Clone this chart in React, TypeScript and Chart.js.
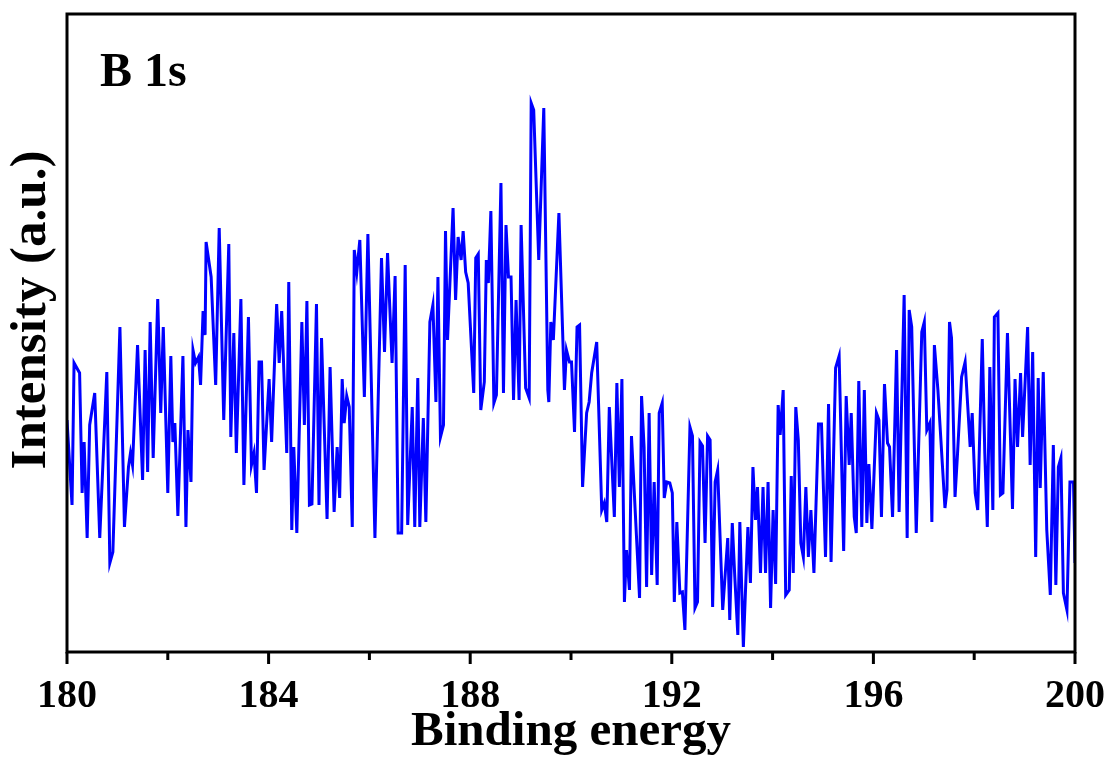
import React, { useEffect, useRef } from 'react';
import { Chart, registerables } from 'chart.js';

Chart.register(...registerables);

// Binding energy (eV)
const bindingEnergy = [
  180.00,180.10,180.14,180.25,180.30,180.34,180.40,180.45,180.55,180.65,
  180.79,180.85,180.91,181.05,181.14,181.22,181.26,181.30,181.40,181.50,
  181.55,181.60,181.65,181.71,181.80,181.86,181.91,182.00,182.06,182.10,
  182.14,182.20,182.30,182.36,182.40,182.46,182.50,182.55,182.61,182.65,
  182.70,182.74,182.76,182.86,182.95,183.02,183.11,183.21,183.25,183.31,
  183.36,
  183.45,183.51,183.60,183.66,183.71,183.76,183.81,183.86,183.91,184.01,
  184.06,184.16,184.21,184.26,184.36,184.40,184.46,184.50,184.56,184.66,
  184.71,184.76,184.81,184.86,184.95,185.00,185.05,185.16,185.22,185.30,
  185.36,185.41,185.46,185.50,185.55,185.60,185.66,185.70,185.75,185.81,
  185.90,185.97,186.11,186.24,186.30,186.36,186.45,186.51,186.57,186.64,
  186.71,
  186.76,186.85,186.90,186.96,187.00,187.07,187.12,187.20,187.26,187.32,
  187.36,187.41,187.47,187.51,187.55,187.66,187.71,187.76,187.82,187.86,
  187.91,187.96,188.07,188.11,188.16,188.21,188.28,188.32,188.36,188.41,
  188.47,188.52,188.61,188.66,188.71,188.76,188.81,188.86,188.91,188.97,
  189.01,189.10,189.17,189.21,189.26,189.36,189.46,189.54,189.56,189.60,
  189.65,189.76,189.87,189.91,189.97,190.01,190.07,
  190.12,190.17,190.23,190.31,190.36,190.41,190.51,190.61,190.66,190.71,
  190.76,190.86,190.91,190.96,191.01,191.06,191.10,191.16,191.20,191.36,
  191.40,191.45,191.50,191.55,191.60,191.65,191.71,191.75,191.81,191.85,
  191.90,191.96,192.01,192.05,192.10,192.16,192.21,192.26,192.36,192.41,
  192.46,192.51,192.56,192.61,192.66,192.71,192.76,192.81,192.86,192.91,
  193.01,193.11,193.15,193.20,193.25,193.31,193.35,193.42,
  193.51,193.56,193.61,193.66,193.70,193.76,193.81,193.86,193.91,193.96,
  194.01,194.06,194.11,194.15,194.21,194.26,194.33,194.37,194.41,194.46,
  194.51,194.56,194.61,194.66,194.71,194.76,194.82,194.91,194.97,195.05,
  195.11,195.16,195.25,195.32,195.41,195.46,195.52,195.56,195.62,195.66,
  195.71,195.77,195.82,195.87,195.91,195.97,196.06,196.11,196.16,196.22,
  196.28,196.32,196.38,196.46,196.51,196.61,196.67,196.71,196.76,196.85,
  196.96,197.01,197.06,197.12,197.16,197.21,197.28,197.42,197.46,197.51,
  197.55,197.62,197.67,197.75,197.82,197.92,197.96,198.02,198.07,198.16,
  198.21,198.26,198.31,198.37,198.40,198.47,198.52,198.57,198.66,198.76,
  198.81,198.86,198.92,198.96,199.06,199.11,199.16,199.22,199.27,199.31,
  199.37,199.44,199.51,199.57,199.62,199.67,199.72,199.77,199.84,199.90,
  199.97,200.00,
];

// Intensity (a.u.)
const intensity = [
  232,147,289,279,159,210,114,227,259,114,
  280,89,100,325,125,185,199,187,307,172,
  302,180,330,194,353,239,325,159,296,210,
  229,136,296,125,222,170,302,289,295,267,
  341,317,410,375,267,424,232,408,215,319,
  199,
  353,167,335,187,199,159,290,290,182,273,
  210,348,289,341,199,370,122,205,119,330,
  227,351,147,148,348,147,314,133,285,140,
  205,154,273,229,256,245,125,402,380,412,
  255,418,114,394,300,399,289,376,119,119,
  387,
  127,245,125,274,125,234,130,330,347,250,
  375,215,227,421,312,444,352,415,392,421,
  380,369,259,394,398,242,270,392,369,441,
  249,257,469,259,427,375,375,252,352,252,
  427,264,254,549,542,392,544,262,250,330,
  312,439,262,302,290,290,220,
  325,327,165,239,250,279,310,142,149,130,
  245,135,269,165,273,50,102,62,216,54,
  256,205,65,239,77,170,67,239,249,154,
  170,169,159,50,130,59,60,22,225,216,
  44,50,210,206,109,216,212,45,170,182,
  42,114,32,129,75,17,130,5,
  125,69,185,132,165,79,165,79,170,44,
  142,68,247,217,262,57,62,176,79,245,
  212,109,95,165,95,142,79,228,228,95,
  248,90,284,296,101,256,187,239,135,119,
  271,125,262,129,188,123,239,232,135,268,
  209,205,135,302,140,357,114,342,325,119,
  320,330,222,229,130,307,262,144,162,330,
  314,155,199,275,290,205,239,159,142,313,
  199,125,285,142,335,339,157,159,319,143,
  273,205,279,215,325,187,300,95,274,164,
  280,122,57,207,67,185,194,59,42,170,
  170,89,
];

const majorTicks = [180, 184, 188, 192, 196, 200];
const minorTicks = [182, 186, 190, 194, 198];
const panelLabel = 'B 1s';
const xTitle = 'Binding energy';
const yTitle = 'Intensity (a.u.)';

const SERIF = '"Liberation Serif", "Times New Roman", serif';

export default function App() {
  const ref = useRef<HTMLCanvasElement>(null);

  useEffect(() => {
    document.body.style.margin = '0';
    const canvas = ref.current;
    if (!canvas) return;

    const framePlugin = {
      id: 'frame',
      afterDraw(chart: any) {
        const { ctx, chartArea: a, scales } = chart;
        ctx.save();
        ctx.strokeStyle = '#000';
        ctx.lineWidth = 3;
        ctx.strokeRect(a.left, a.top, a.right - a.left, a.bottom - a.top);
        const xs = scales.x;
        ctx.beginPath();
        for (const v of majorTicks) {
          const px = xs.getPixelForValue(v);
          ctx.moveTo(px, a.bottom);
          ctx.lineTo(px, a.bottom + 12);
        }
        for (const v of minorTicks) {
          const px = xs.getPixelForValue(v);
          ctx.moveTo(px, a.bottom);
          ctx.lineTo(px, a.bottom + 8);
        }
        ctx.stroke();
        ctx.fillStyle = '#000';
        ctx.font = `bold 48px ${SERIF}`;
        ctx.textBaseline = 'alphabetic';
        ctx.textAlign = 'left';
        ctx.fillText(panelLabel, 100, 86);
        // y-axis title
        ctx.save();
        ctx.translate(32, 310);
        ctx.rotate(-Math.PI / 2);
        ctx.font = `bold 51px ${SERIF}`;
        ctx.textAlign = 'center';
        ctx.textBaseline = 'middle';
        ctx.fillText(yTitle, 0, 0);
        ctx.restore();
        ctx.restore();
      },
    };

    const chart = new Chart(canvas, {
      type: 'line',
      data: {
        datasets: [
          {
            data: bindingEnergy.map((e, i) => ({ x: e, y: intensity[i] })),
            borderColor: '#0000FF',
            borderWidth: 3,
            pointRadius: 0,
            tension: 0,
            fill: false,
          },
        ],
      },
      options: {
        animation: false,
        responsive: false,
        maintainAspectRatio: false,
        layout: { padding: { top: 14, right: 34, left: 0, bottom: 0 } },
        plugins: { legend: { display: false }, tooltip: { enabled: false } },
        scales: {
          x: {
            type: 'linear',
            min: 180,
            max: 200,
            afterFit(s: any) {
              s.height = 111;
              s.paddingLeft = 0;
              s.paddingRight = 0;
            },
            ticks: {
              stepSize: 4,
              color: '#000',
              padding: 21,
              maxRotation: 0,
              autoSkip: false,
              font: { family: SERIF, size: 40, weight: 'bold' },
            },
            grid: { display: false, drawTicks: false },
            border: { display: false },
            title: {
              display: true,
              text: xTitle,
              color: '#000',
              font: { family: SERIF, size: 49, weight: 'bold' },
              padding: { top: 0, bottom: 1 },
            },
          },
          y: {
            min: 0,
            max: 638,
            afterFit(s: any) {
              s.width = 67;
              s.paddingTop = 0;
              s.paddingBottom = 0;
            },
            ticks: { display: false },
            grid: { display: false },
            border: { display: false },
            title: { display: false, text: yTitle },
          },
        },
      },
      plugins: [framePlugin],
    });

    return () => chart.destroy();
  }, []);

  return (
    <div style={{ width: 1109, height: 763, background: '#fff' }}>
      <canvas ref={ref} width={1109} height={763} style={{ display: 'block' }} />
    </div>
  );
}
